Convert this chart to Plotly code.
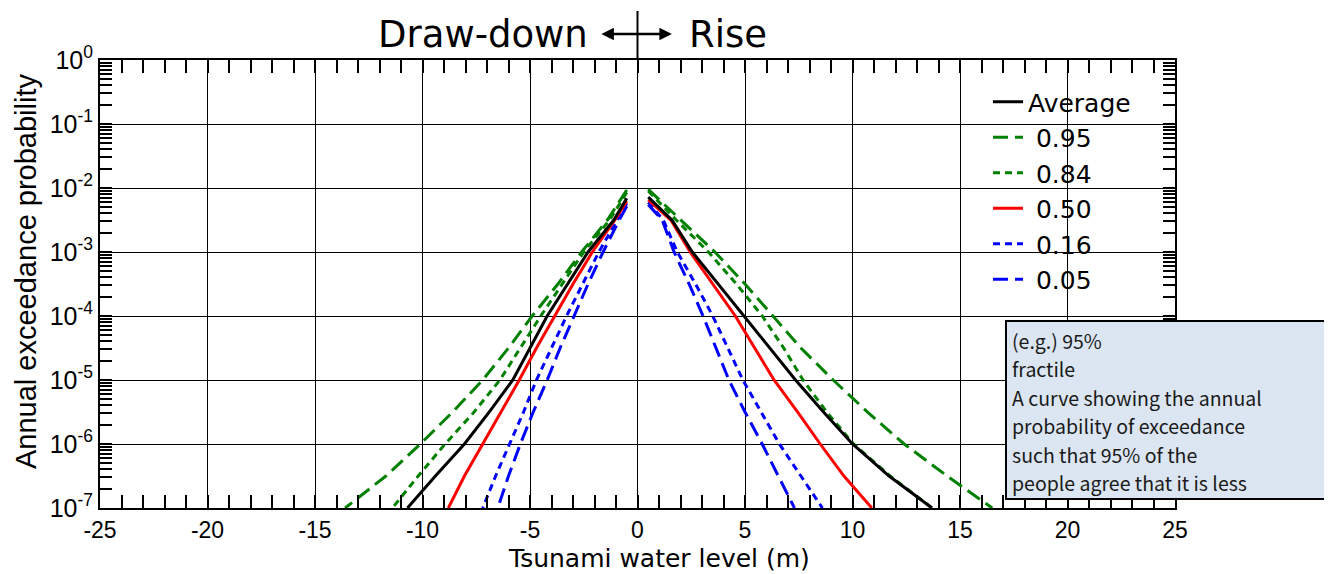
import plotly.graph_objects as go

# ---------------- data ----------------
PROB_LEVELS = [3.16e-3, 1e-3, 3.16e-4, 1e-4, 3.16e-5, 1e-5, 3.16e-6, 1e-6, 3.16e-7, 1e-7]
TOP_X_LEFT = -0.5
TOP_X_RIGHT = 0.5

avg_top = [0.0069, 0.0072]
avg_left = [-1.1, -2.3, -3.25, -4.2, -5.0, -5.8, -6.9, -8.05, -9.4, -10.7]
avg_right = [1.6, 2.55, 3.75, 4.95, 6.15, 7.35, 8.65, 10.0, 11.7, 13.7]

p95_top = [0.0093, 0.0095]
p95_left = [-1.4, -2.6, -3.7, -4.9, -6.0, -7.2, -8.6, -10.1, -11.7, -13.6]
p95_right = [2.0, 3.6, 5.0, 6.3, 7.6, 9.1, 10.7, 12.4, 14.4, 16.5]

p84_top = [0.0085, 0.009]
p84_left = [-1.3, -2.5, -3.5, -4.5, -5.45, -6.4, -7.6, -8.95, -10.2, -11.4]
p84_right = [1.8, 3.3, 4.6, 5.8, 6.8, 7.7, 8.8, 10.05, 11.75, 13.7]

p50_top = [0.0062, 0.0065]
p50_left = [-1.05, -2.1, -3.0, -3.85, -4.7, -5.5, -6.35, -7.2, -8.05, -8.8]
p50_right = [1.55, 2.45, 3.5, 4.55, 5.45, 6.35, 7.45, 8.5, 9.6, 10.9]

p16_top = [0.0058, 0.006]
p16_left = [-0.95, -1.8, -2.55, -3.3, -4.0, -4.7, -5.3, -5.95, -6.6, -7.2]
p16_right = [1.2, 1.85, 2.7, 3.5, 4.2, 4.9, 5.75, 6.6, 7.6, 8.6]

p05_top = [0.0052, 0.0055]
p05_left = [-0.85, -1.6, -2.3, -2.95, -3.6, -4.2, -4.85, -5.45, -6.0, -6.5]
p05_right = [1.15, 1.7, 2.4, 3.05, 3.65, 4.25, 5.0, 5.8, 6.55, 7.3]

X_TICKS = [-25, -20, -15, -10, -5, 0, 5, 10, 15, 20, 25]
X_TICK_TEXT = ["-25", "-20", "-15", "-10", "-5", "0", "5", "10", "15", "20", "25"]
Y_TICKS = [1e-7, 1e-6, 1e-5, 1e-4, 1e-3, 1e-2, 1e-1, 1]
Y_TICK_TEXT = ["10<sup>-7</sup>", "10<sup>-6</sup>", "10<sup>-5</sup>", "10<sup>-4</sup>",
               "10<sup>-3</sup>", "10<sup>-2</sup>", "10<sup>-1</sup>", "10<sup>0</sup>"]

X_TITLE = "Tsunami water level (m)"
Y_TITLE = "Annual exceedance probability"
BOX_LINES = ["(e.g.) 95%", "fractile", "A curve showing the annual",
             "probability of exceedance", "such that 95% of the",
             "people agree that it is less"]


def branch(top, left, right):
    xs = [TOP_X_LEFT] + left + [None] + [TOP_X_RIGHT] + right
    ys = [top[0]] + PROB_LEVELS + [None] + [top[1]] + PROB_LEVELS
    return xs, ys


series = [
    # name, top, left, right, color, dash, legend rank
    ("0.95", p95_top, p95_left, p95_right, "#008000", "15px,7px", 2),
    ("0.84", p84_top, p84_left, p84_right, "#008000", "7px,5px", 3),
    ("0.16", p16_top, p16_left, p16_right, "#0000ff", "7px,5px", 5),
    ("0.05", p05_top, p05_left, p05_right, "#0000ff", "15px,7px", 6),
    ("0.50", p50_top, p50_left, p50_right, "#ff0000", "solid", 4),
    ("Average", avg_top, avg_left, avg_right, "#000000", "solid", 1),
]

fig = go.Figure()
for name, top, left, right, color, dash, rank in series:
    xs, ys = branch(top, left, right)
    label = name if name == "Average" else "\u00a0" + name
    fig.add_trace(go.Scatter(x=xs, y=ys, mode="lines", name=label, legendrank=rank,
                             line=dict(color=color, width=3, dash=dash)))

minor_y = [k * 10 ** d for d in range(-7, 0) for k in range(2, 10)]

# page has an 8px body margin, so the figure is drawn 8px smaller and offset
OFF = 8
W, H = 1332 - OFF, 574 - OFF
L, T = 100 - OFF, 60 - OFF
R = W - (1175 - OFF)
B = H - (508 - OFF)
PW, PH = W - L - R, H - T - B


def px_x(px):
    return (px - OFF - L) / PW


def px_y(py):
    return (H - B - (py - OFF)) / PH


fig.update_layout(
    width=W, height=H,
    margin=dict(l=L, r=R, t=T, b=B, autoexpand=False),
    paper_bgcolor="white", plot_bgcolor="white",
    showlegend=True,
    legend=dict(x=px_x(988), y=px_y(79), xanchor="left", yanchor="top",
                bgcolor="rgba(0,0,0,0)", borderwidth=0,
                font=dict(family="DejaVu Sans", size=25, color="black")),
    font=dict(family="Arial", color="black"),
)

fig.update_xaxes(
    range=[-25, 25], tickmode="array", tickvals=X_TICKS, ticktext=X_TICK_TEXT,
    showgrid=True, gridcolor="black", gridwidth=1, automargin=False,
    zeroline=False, showline=True, linecolor="black", linewidth=2, mirror="allticks",
    ticks="inside", ticklen=13, tickcolor="black", tickwidth=1.5,
    tickfont=dict(family="Arial", size=23, color="black"),
    minor=dict(dtick=1, ticks="inside", ticklen=13, tickcolor="black", tickwidth=1.5, showgrid=False),
)
fig.update_yaxes(
    type="log", range=[-7, 0], tickmode="array", tickvals=Y_TICKS, ticktext=Y_TICK_TEXT,
    showgrid=True, gridcolor="black", gridwidth=1, automargin=False,
    zeroline=False, showline=True, linecolor="black", linewidth=2, mirror="allticks",
    ticks="inside", ticklen=12, tickcolor="black", tickwidth=1.5,
    tickfont=dict(family="Arial", size=25, color="black"),
    minor=dict(tickmode="array", tickvals=minor_y, ticks="inside", ticklen=12,
               tickcolor="black", tickwidth=1.5, showgrid=False),
)

# axis titles placed as in the reference
fig.add_annotation(x=px_x(659), y=px_y(558), xref="paper", yref="paper", text=X_TITLE,
                   showarrow=False, xanchor="center", yanchor="middle",
                   font=dict(family="DejaVu Sans", size=25, color="black"))
fig.add_annotation(x=px_x(26), y=px_y(272), xref="paper", yref="paper", text=Y_TITLE,
                   showarrow=False, xanchor="center", yanchor="middle", textangle=-90,
                   font=dict(family="Arial", size=29, color="black"))

# white area behind the legend (covers the grid there)
fig.add_shape(type="rect", xref="paper", yref="paper", x0=px_x(958), x1=1.0, y0=px_y(297), y1=1.0,
              fillcolor="white", line=dict(width=0), layer="between")

# Draw-down / Rise header
fig.add_shape(type="line", xref="x", yref="paper", x0=0, x1=0, y0=1.0, y1=px_y(11),
              line=dict(color="black", width=2))
fig.add_annotation(x=1.6, y=px_y(34), xref="x", yref="paper", ax=-1.75, ay=0,
                   axref="x", ayref="pixel", text="", showarrow=True,
                   arrowhead=2, arrowside="end+start", arrowsize=1, arrowwidth=2.5,
                   arrowcolor="black")
fig.add_annotation(x=-2.2, y=px_y(34), xref="x", yref="paper", text="Draw-down", showarrow=False,
                   xanchor="right", yanchor="middle",
                   font=dict(family="DejaVu Sans", size=37, color="black"))
fig.add_annotation(x=2.3, y=px_y(34), xref="x", yref="paper", text="Rise", showarrow=False,
                   xanchor="left", yanchor="middle",
                   font=dict(family="DejaVu Sans", size=37, color="black"))

# explanatory box
fig.add_shape(type="rect", xref="paper", yref="paper", x0=px_x(1006), x1=px_x(1329),
              y0=px_y(499), y1=px_y(321),
              fillcolor="#dce6f2", line=dict(color="black", width=2), layer="above")
line_px = [340, 368.5, 397, 425.5, 454, 482.5]
for txt, py in zip(BOX_LINES, line_px):
    fig.add_annotation(x=px_x(1010), y=px_y(py), xref="paper", yref="paper", text=txt,
                       showarrow=False, xanchor="left", yanchor="middle",
                       font=dict(family="Noto Sans CJK JP", size=19.5, color="#1a1a1a"))

fig.write_html("out.html")
